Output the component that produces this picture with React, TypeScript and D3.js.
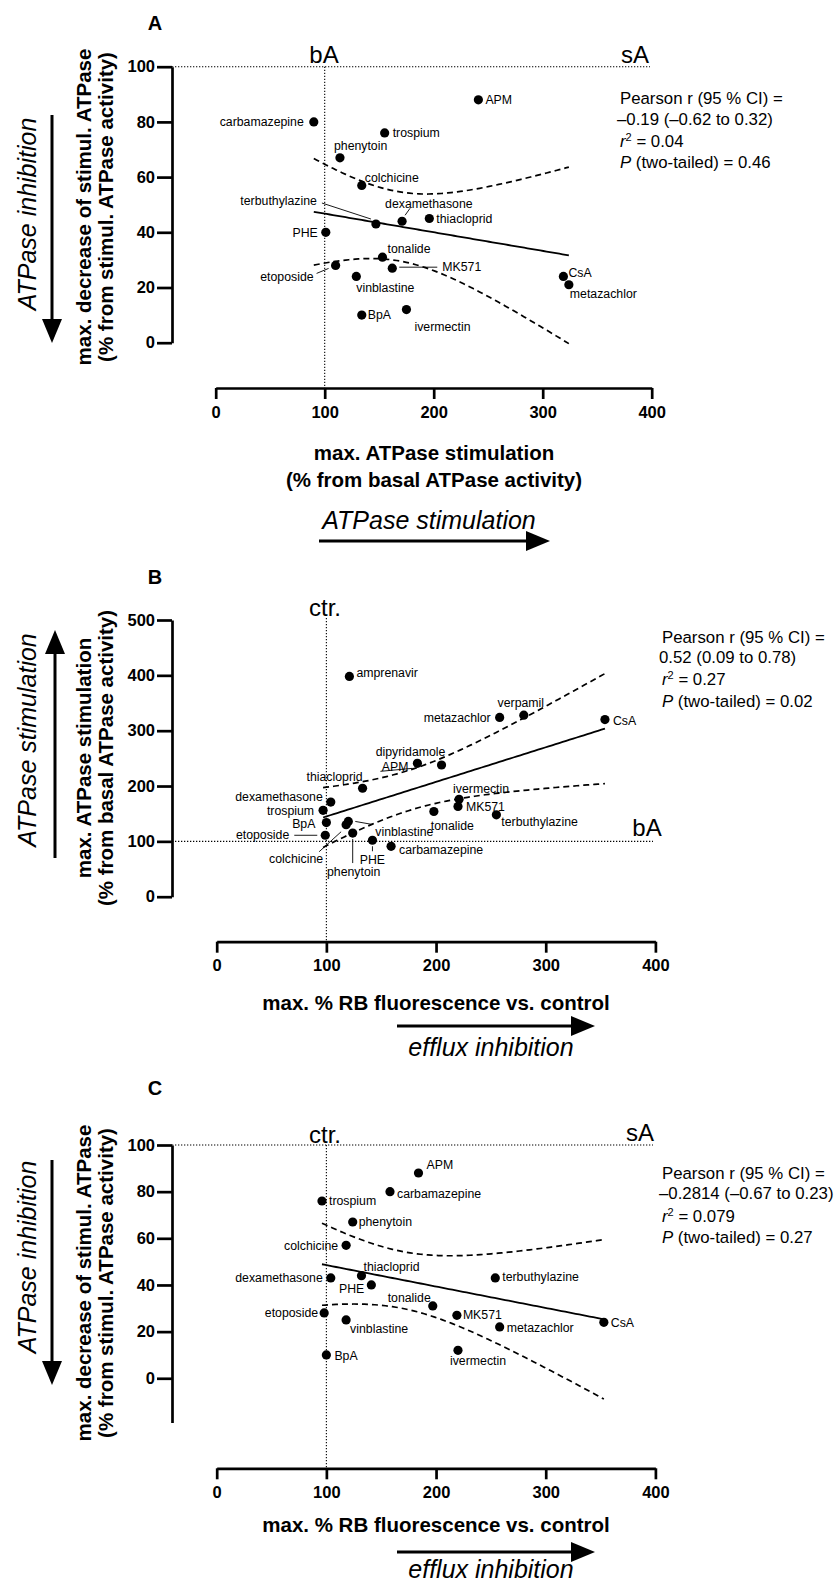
import * as d3 from 'd3';
import React, { useRef, useEffect } from 'react';

const FONT = '"Liberation Sans", Arial, Helvetica, sans-serif';

// A: ATPase stimulation vs. decrease of stimulated ATPase
const namesA = ['carbamazepine', 'phenytoin', 'colchicine', 'terbuthylazine', 'dexamethasone', 'PHE', 'tonalide', 'etoposide', 'MK571', 'vinblastine', 'BpA', 'ivermectin', 'trospium', 'APM', 'thiacloprid', 'CsA', 'metazachlor'];
const stimA = [90, 114, 134, 147, 171, 101, 153, 110, 162, 129, 134, 175, 155, 241, 196, 319, 324];
const decreaseA = [80, 67, 57, 43, 44, 40, 31, 28, 27, 24, 10, 12, 76, 88, 45, 24, 21];

// B: RB fluorescence vs. ATPase stimulation
const namesB = ['amprenavir', 'thiacloprid', 'dexamethasone', 'trospium', 'BpA', 'etoposide', 'colchicine', 'vinblastine', 'phenytoin', 'PHE', 'carbamazepine', 'APM', 'dipyridamole', 'metazachlor', 'verpamil', 'CsA', 'ivermectin', 'MK571', 'tonalide', 'terbuthylazine'];
const effluxB = [121, 133, 104, 97, 100, 99, 118, 120, 124, 142, 159, 183, 205, 258, 280, 354, 221, 220, 198, 255];
const stimB = [398, 196, 171, 156, 134, 111, 130, 136, 115, 102, 91, 241, 238, 324, 328, 320, 176, 163, 154, 148];

// C: RB fluorescence vs. decrease of stimulated ATPase
const namesC = ['trospium', 'carbamazepine', 'APM', 'phenytoin', 'colchicine', 'dexamethasone', 'thiacloprid', 'PHE', 'etoposide', 'vinblastine', 'terbuthylazine', 'tonalide', 'MK571', 'metazachlor', 'CsA', 'BpA', 'ivermectin'];
const effluxC = [96, 158, 184, 124, 118, 104, 132, 141, 98, 118, 254, 197, 219, 258, 353, 100, 220];
const decreaseC = [76, 80, 88, 67, 57, 43, 44, 40, 28, 25, 43, 31, 27, 22, 24, 10, 12];

const xTicks = [0, 100, 200, 300, 400];
const yTicksA = [0, 20, 40, 60, 80, 100];
const yTicksB = [0, 100, 200, 300, 400, 500];
const yTicksC = [0, 20, 40, 60, 80, 100];

const statsA = ['Pearson r (95 % CI) =', '–0.19 (–0.62 to 0.32)', '0.04', '0.46'];
const statsB = ['Pearson r (95 % CI) =', '0.52 (0.09 to 0.78)', '0.27', '0.02'];
const statsC = ['Pearson r (95 % CI) =', '–0.2814 (–0.67 to 0.23)', '0.079', '0.27'];

// two-sided 95 % t values by degrees of freedom
const tCrit: Record<number, number> = { 13: 2.160, 14: 2.145, 15: 2.131, 16: 2.120, 17: 2.110, 18: 2.101, 19: 2.093, 20: 2.086 };

// label placement: [dx, dy, anchor, leader line offsets]
type Lab = [number, number, string, number[]?];
const labelsA: Record<string, Lab> = {
  carbamazepine: [-10, 0, 'end'],
  phenytoin: [-6, -12, 'start'],
  colchicine: [3, -8, 'start'],
  terbuthylazine: [-59, -23, 'end', [-54, -21, -5, -5]],
  dexamethasone: [-17, -18, 'start', [8, -13, 3, -6]],
  PHE: [-8, 0, 'end'],
  tonalide: [5, -8, 'start'],
  etoposide: [-22, 11, 'end', [-19, 8, -7, 3]],
  MK571: [50, -1, 'start', [7, -1, 45, -1]],
  vinblastine: [0, 11, 'start'],
  BpA: [6, 0, 'start'],
  ivermectin: [8, 17, 'start'],
  trospium: [8, 0, 'start'],
  APM: [7, 0, 'start'],
  thiacloprid: [7, 0, 'start'],
  CsA: [5, -4, 'start'],
  metazachlor: [1, 9, 'start'],
};
const labelsB: Record<string, Lab> = {
  amprenavir: [7, -4, 'start'],
  thiacloprid: [0, -12, 'end'],
  dexamethasone: [-8, -5, 'end'],
  trospium: [-9, 0, 'end'],
  BpA: [-11, 1, 'end'],
  etoposide: [-36, -1, 'end', [-31, 0, -8, 0]],
  colchicine: [-23, 34, 'end', [-27, 27, -5, 7]],
  vinblastine: [27, 10, 'start', [7, 0, 24, 3]],
  phenytoin: [1, 39, 'middle', [0, 6, 0, 30]],
  PHE: [0, 19, 'middle', [0, 6, 0, 11]],
  carbamazepine: [8, 3, 'start'],
  APM: [-9, 3, 'end', [-37, 8, -5, 5]],
  dipyridamole: [-31, -13, 'middle'],
  metazachlor: [-9, 0, 'end'],
  verpamil: [-3, -12, 'middle'],
  CsA: [8, 1, 'start'],
  ivermectin: [-6, -11, 'start'],
  MK571: [8, 0, 'start'],
  tonalide: [-3, 14, 'start'],
  terbuthylazine: [5, 7, 'start'],
};
const labelsC: Record<string, Lab> = {
  trospium: [7, 0, 'start'],
  carbamazepine: [7, 2, 'start'],
  APM: [8, -8, 'start'],
  phenytoin: [6, 0, 'start'],
  colchicine: [-8, 0, 'end'],
  dexamethasone: [-8, 0, 'end'],
  thiacloprid: [2, -9, 'start'],
  PHE: [-7, 4, 'end'],
  etoposide: [-6, 0, 'end'],
  vinblastine: [4, 9, 'start'],
  terbuthylazine: [7, -1, 'start'],
  tonalide: [-2, -8, 'end'],
  MK571: [6, -1, 'start'],
  metazachlor: [7, 1, 'start'],
  CsA: [7, 0, 'start'],
  BpA: [8, 1, 'start'],
  ivermectin: [-8, 10, 'start'],
};

const panels = [
  {
    letter: 'A', letterY: 23, names: namesA, xs: stimA, ys: decreaseA, labels: labelsA,
    xRange: [215.7, 651.7], yDomain: [0, 100], yRange: [342.7, 66.7], yTicks: yTicksA,
    xAxisY: 388, refY: 100, refHEnd: 650, refVTop: 66.7,
    marks: [['bA', 324, 55], ['sA', 635, 55]],
    stats: statsA, statsX: 620, statsY: [98, 119, 141, 162],
    yTitle: ['max. decrease of stimul. ATPase', '(% from stimul. ATPase activity)'], yTitleMid: 207,
    side: 'ATPase inhibition', sideMid: 214, sideArrow: [52, 115, 343],
    xTitle: ['max. ATPase stimulation', '(% from basal ATPase activity)'], xTitleY: [453, 480], xTitleX: 434,
    bottom: 'ATPase stimulation', bottomX: 429, bottomY: 520, bottomArrow: [319, 550, 541],
  },
  {
    letter: 'B', letterY: 577, names: namesB, xs: effluxB, ys: stimB, labels: labelsB,
    xRange: [216.7, 655.4], yDomain: [0, 500], yRange: [896.7, 620], yTicks: yTicksB,
    xAxisY: 941.7, refY: 100, refHEnd: 653, refVTop: 618,
    marks: [['ctr.', 325, 608], ['bA', 647, 828]],
    stats: statsB, statsX: 662, statsY: [637, 657, 679, 701],
    yTitle: ['max. ATPase stimulation', '(% from basal ATPase activity)'], yTitleMid: 758,
    side: 'ATPase stimulation', sideMid: 740, sideArrow: [55, 858, 630],
    xTitle: ['max. % RB fluorescence vs. control'], xTitleY: [1003], xTitleX: 436,
    bottom: 'efflux inhibition', bottomX: 491, bottomY: 1047, bottomArrow: [397, 595, 1026],
  },
  {
    letter: 'C', letterY: 1088, names: namesC, xs: effluxC, ys: decreaseC, labels: labelsC,
    xRange: [216.7, 655.4], yDomain: [-19, 100], yRange: [1422.6, 1145], yTicks: yTicksC,
    xAxisY: 1468.3, refY: 100, refHEnd: 653, refVTop: 1145,
    marks: [['ctr.', 325, 1135], ['sA', 640, 1133]],
    stats: statsC, statsX: 662, statsY: [1173, 1193, 1216, 1237],
    yTitle: ['max. decrease of stimul. ATPase', '(% from stimul. ATPase activity)'], yTitleMid: 1283,
    side: 'ATPase inhibition', sideMid: 1257, sideArrow: [52, 1160, 1385],
    xTitle: ['max. % RB fluorescence vs. control'], xTitleY: [1525], xTitleX: 436,
    bottom: 'efflux inhibition', bottomX: 491, bottomY: 1569, bottomArrow: [397, 595, 1552],
  },
];

function fitBand(xs: number[], ys: number[]) {
  const n = xs.length;
  const mx = d3.mean(xs) as number;
  const my = d3.mean(ys) as number;
  let sxx = 0, sxy = 0, syy = 0;
  xs.forEach((xv, i) => {
    const dx = xv - mx, dy = ys[i] - my;
    sxx += dx * dx; sxy += dx * dy; syy += dy * dy;
  });
  const slope = sxy / sxx;
  const icpt = my - slope * mx;
  const s = Math.sqrt((syy - (sxy * sxy) / sxx) / (n - 2));
  const t = tCrit[n - 2];
  const [lo, hi] = d3.extent(xs) as [number, number];
  return d3.range(81).map((i) => {
    const xv = lo + ((hi - lo) * i) / 80;
    const yh = icpt + slope * xv;
    const h = t * s * Math.sqrt(1 / n + (xv - mx) ** 2 / sxx);
    return { x: xv, y: yh, lo: yh - h, hi: yh + h };
  });
}

function arrow(g: any, x1: number, y1: number, x2: number, y2: number) {
  const len = Math.hypot(x2 - x1, y2 - y1);
  const ux = (x2 - x1) / len, uy = (y2 - y1) / len;
  const head = 24, half = 10;
  const bx = x2 - ux * head, by = y2 - uy * head;
  g.append('line')
    .attr('x1', x1).attr('y1', y1)
    .attr('x2', bx + ux * 2).attr('y2', by + uy * 2)
    .attr('stroke', '#000').attr('stroke-width', 3);
  g.append('path')
    .attr('d', `M${x2},${y2}L${bx - uy * half},${by + ux * half}L${bx + uy * half},${by - ux * half}Z`)
    .attr('fill', '#000');
}

function drawPanel(svg: any, p: any) {
  const g = svg.append('g').attr('font-family', FONT);
  const x = d3.scaleLinear().domain([0, 400]).range(p.xRange);
  const y = d3.scaleLinear().domain(p.yDomain).range(p.yRange);
  const axisX = 172;

  // dotted reference lines
  g.append('line')
    .attr('x1', axisX).attr('x2', p.refHEnd)
    .attr('y1', y(p.refY)).attr('y2', y(p.refY))
    .attr('stroke', '#000').attr('stroke-width', 1.1).attr('stroke-dasharray', '1.3,1.7');
  g.append('line')
    .attr('x1', x(100)).attr('x2', x(100))
    .attr('y1', p.refVTop).attr('y2', p.xAxisY)
    .attr('stroke', '#000').attr('stroke-width', 1.1).attr('stroke-dasharray', '1.3,1.7');

  // axes
  const yAxis = d3.axisLeft(y).tickValues(p.yTicks).tickSize(15).tickPadding(2).tickSizeOuter(0);
  const ya = g.append('g').attr('transform', `translate(${axisX},0)`).call(yAxis);
  const xAxis = d3.axisBottom(x).tickValues(xTicks).tickSize(11).tickPadding(7).tickSizeOuter(0);
  const xa = g.append('g').attr('transform', `translate(0,${p.xAxisY})`).call(xAxis);
  [ya, xa].forEach((a) => {
    a.selectAll('.domain, .tick line').attr('stroke', '#000').attr('stroke-width', 2.7);
    a.selectAll('text')
      .attr('font-family', FONT)
      .attr('font-size', 16.5)
      .attr('font-weight', 'bold')
      .attr('fill', '#000');
  });

  // regression line and 95 % confidence band
  const band = fitBand(p.xs, p.ys);
  const mk = (key: string) => d3.line<any>().x((d) => x(d.x)).y((d) => y(d[key])).curve(d3.curveLinear)(band);
  g.append('path').attr('d', mk('y')).attr('fill', 'none').attr('stroke', '#000').attr('stroke-width', 1.8);
  ['lo', 'hi'].forEach((k) => {
    g.append('path').attr('d', mk(k)).attr('fill', 'none')
      .attr('stroke', '#000').attr('stroke-width', 1.7).attr('stroke-dasharray', '6,4');
  });

  // points with labels
  p.names.forEach((name: string, i: number) => {
    const cx = x(p.xs[i]);
    const cy = y(p.ys[i]);
    const lab = p.labels[name];
    if (lab && lab[3]) {
      const l = lab[3];
      g.append('line')
        .attr('x1', cx + l[0]).attr('y1', cy + l[1])
        .attr('x2', cx + l[2]).attr('y2', cy + l[3])
        .attr('stroke', '#000').attr('stroke-width', 0.9);
    }
    g.append('circle').attr('cx', cx).attr('cy', cy).attr('r', 4.6).attr('fill', '#000');
    if (lab) {
      g.append('text')
        .attr('x', cx + lab[0]).attr('y', cy + lab[1])
        .attr('dy', '0.35em')
        .attr('text-anchor', lab[2])
        .attr('font-size', 12.3)
        .text(name);
    }
  });

  // corner marks (bA, sA, ctr.)
  p.marks.forEach((m: any) => {
    g.append('text').attr('x', m[1]).attr('y', m[2]).attr('dy', '0.35em')
      .attr('text-anchor', 'middle').attr('font-size', 24).text(m[0]);
  });

  // statistics
  const sx = p.statsX, sy = p.statsY;
  g.append('text').attr('x', sx).attr('y', sy[0]).attr('dy', '0.35em').attr('font-size', 16.8).text(p.stats[0]);
  g.append('text').attr('x', sx - 3).attr('y', sy[1]).attr('dy', '0.35em').attr('font-size', 16.8).text(p.stats[1]);
  const r2 = g.append('text').attr('x', sx).attr('y', sy[2]).attr('dy', '0.35em').attr('font-size', 16.8);
  r2.append('tspan').attr('font-style', 'italic').text('r');
  r2.append('tspan').attr('font-size', 11).attr('baseline-shift', 'super').text('2');
  r2.append('tspan').text(` = ${p.stats[2]}`);
  const pv = g.append('text').attr('x', sx).attr('y', sy[3]).attr('dy', '0.35em').attr('font-size', 16.8);
  pv.append('tspan').attr('font-style', 'italic').text('P');
  pv.append('tspan').text(` (two-tailed) = ${p.stats[3]}`);

  // panel letter
  g.append('text').attr('x', 155).attr('y', p.letterY).attr('dy', '0.35em')
    .attr('text-anchor', 'middle').attr('font-size', 20).attr('font-weight', 'bold').text(p.letter);

  // y title (two rotated lines)
  p.yTitle.forEach((t: string, i: number) => {
    g.append('text')
      .attr('transform', `translate(${91 + i * 22},${p.yTitleMid}) rotate(-90)`)
      .attr('text-anchor', 'middle').attr('font-size', 20.5).attr('font-weight', 'bold').text(t);
  });

  // side italic label with arrow
  g.append('text')
    .attr('transform', `translate(36,${p.sideMid}) rotate(-90)`)
    .attr('text-anchor', 'middle').attr('font-size', 25).attr('font-style', 'italic')
    .text(p.side);
  const sa = p.sideArrow;
  arrow(g, sa[0], sa[1], sa[0], sa[2]);

  // x title
  p.xTitle.forEach((t: string, i: number) => {
    g.append('text').attr('x', p.xTitleX).attr('y', p.xTitleY[i]).attr('dy', '0.35em')
      .attr('text-anchor', 'middle').attr('font-size', 20.5).attr('font-weight', 'bold').text(t);
  });

  // bottom italic label with arrow
  g.append('text').attr('x', p.bottomX).attr('y', p.bottomY).attr('dy', '0.35em')
    .attr('text-anchor', 'middle').attr('font-size', 25).attr('font-style', 'italic').text(p.bottom);
  const ba = p.bottomArrow;
  arrow(g, ba[0], ba[2], ba[1], ba[2]);
}

function App() {
  const svgRef = useRef<SVGSVGElement>(null);

  useEffect(() => {
    const svg = d3.select(svgRef.current);
    svg.selectAll('*').remove();
    panels.forEach((p) => drawPanel(svg, p));
  }, []);

  return (
    <svg
      ref={svgRef}
      width={836}
      height={1584}
      style={{ position: 'absolute', left: 0, top: 0, background: '#fff' }}
    />
  );
}

export default App;
